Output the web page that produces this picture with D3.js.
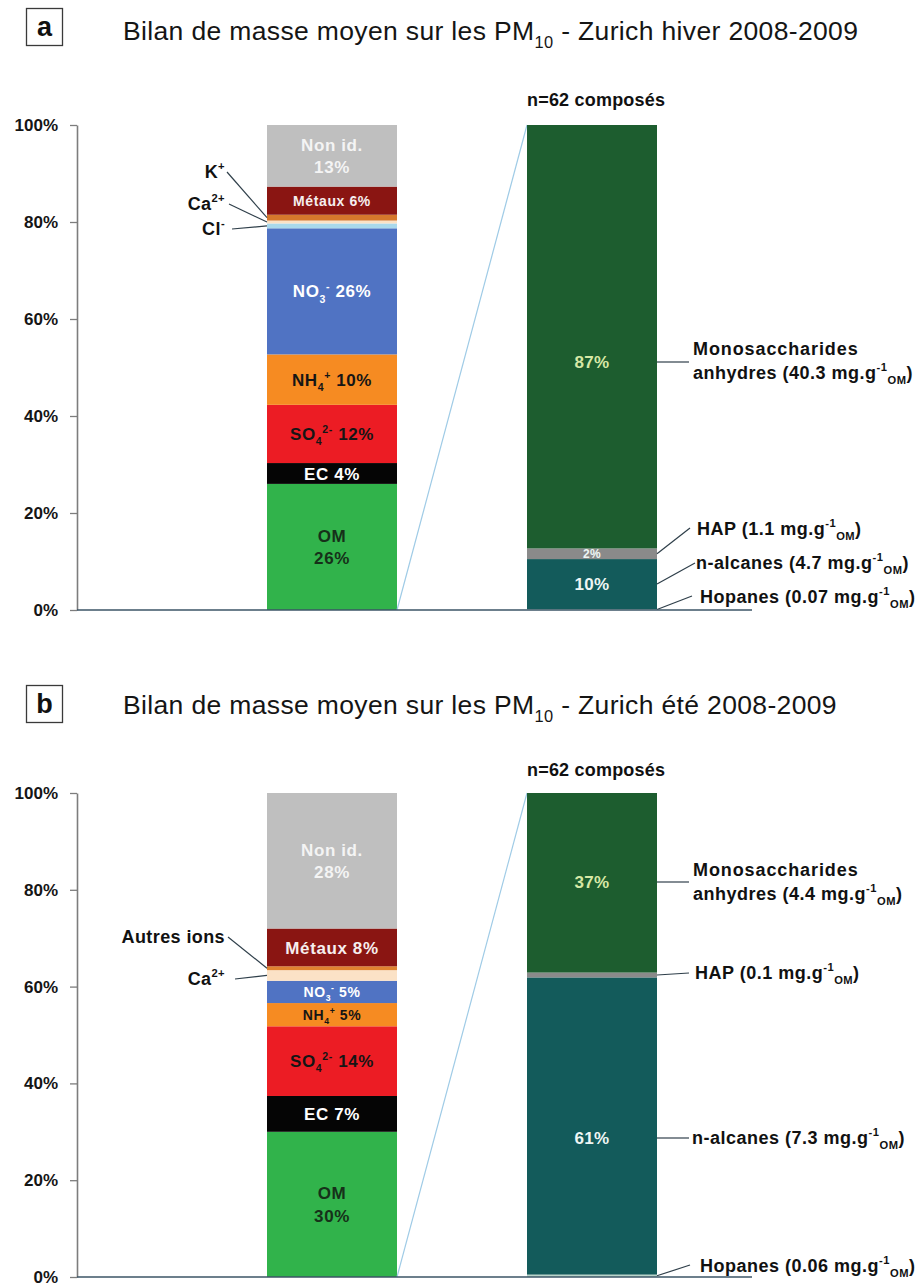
<!DOCTYPE html>
<html>
<head>
<meta charset="utf-8">
<script src="https://cdn.jsdelivr.net/npm/d3@7"></script>
<style>
  body { margin: 0; background: #fff; }
  svg { display: block; font-family: "Liberation Sans", Arial, sans-serif; }
</style>
</head>
<body>
<svg id="chart" width="920" height="1286"></svg>
<script>
// ---- Data: PM10 mass balance, Zurich 2008-2009 (shares in % of mass) ----
const winterComponents = ["OM", "EC", "SO4", "NH4", "NO3", "Cl", "Ca", "K", "Metaux", "NonId"];
const winterShares     = [26, 4.3, 12, 10.4, 26, 1, 0.6, 1.2, 5.8, 12.7];

const summerComponents = ["OM", "EC", "SO4", "NH4", "NO3", "Ca", "Autres", "Metaux", "NonId"];
const summerShares     = [30, 7.4, 14.4, 4.8, 4.6, 2.2, 0.8, 7.8, 28];

// Organic families among the 62 quantified compounds (% of the sum, mg/g OM)
const organicFamilies      = ["Hopanes", "nAlcanes", "HAP", "Mono"];
const winterOrganicShares  = [0.2, 10.3, 2.2, 87.3];
const winterOrganicConc    = [0.07, 4.7, 1.1, 40.3];
const summerOrganicShares  = [0.5, 61.4, 1.0, 37.1];
const summerOrganicConc    = [0.06, 7.3, 0.1, 4.4];

const yTicks = [0, 20, 40, 60, 80, 100];
const nCompounds = 62;

// ---- Styles ----
const fillOf = {
  OM: "#31b34b", EC: "#050505", SO4: "#ec1c24", NH4: "#f68b22", NO3: "#5073c3",
  Cl: "#a9d9ec", Ca: "#fbe2c6", K: "#d6772c", Autres: "#e0822f",
  Metaux: "#8a1512", NonId: "#bfbfbf",
  Mono: "#1d5d2f", HAP: "#8a8a8a", nAlcanes: "#135b5b", Hopanes: "#b9d5c9"
};

const svg = d3.select("#chart");
const pct = v => Math.round(v) + "%";

// Append text made of normal / sub / sup runs
function rich(text, parts, size) {
  let off = 0;
  parts.forEach(p => {
    const [t, kind] = Array.isArray(p) ? p : [p, null];
    const target = kind === "sub" ? size * 0.3 : kind === "sup" ? -size * 0.42 : 0;
    text.append("tspan")
      .attr("dy", target - off)
      .style("font-size", kind ? (size * 0.62) + "px" : null)
      .text(t);
    off = target;
  });
  return text;
}

function label(g, x, y, parts, size, opts = {}) {
  const t = g.append("text")
    .attr("x", x).attr("y", y)
    .attr("text-anchor", opts.anchor || "middle")
    .attr("font-weight", opts.weight || "bold")
    .attr("fill", opts.fill || "#111")
    .style("font-size", size + "px")
    .style("letter-spacing", (opts.ls != null ? opts.ls : 0.4) + "px");
  return rich(t, parts, size);
}

// In-bar labels of the mass balance
function massLabel(key, v) {
  switch (key) {
    case "NonId":  return { lines: [["Non id."], [pct(v)]], fill: "#f4f4f4" };
    case "Metaux": return { lines: [["Métaux " + pct(v)]], fill: "#f6eeee" };
    case "NO3":    return { lines: [["NO", ["3", "sub"], ["-", "sup"], " " + pct(v)]], fill: "#ffffff" };
    case "NH4":    return { lines: [["NH", ["4", "sub"], ["+", "sup"], " " + pct(v)]], fill: "#151515" };
    case "SO4":    return { lines: [["SO", ["4", "sub"], ["2-", "sup"], " " + pct(v)]], fill: "#151515" };
    case "EC":     return { lines: [["EC " + pct(v)]], fill: "#ffffff" };
    case "OM":     return { lines: [["OM"], [pct(v)]], fill: "#163019" };
    default:       return null;
  }
}

const organicName = {
  Mono: ["Monosaccharides", "anhydres"], HAP: ["HAP"], nAlcanes: ["n-alcanes"], Hopanes: ["Hopanes"]
};

function drawPanel(cfg) {
  const g = svg.append("g");
  const y = d3.scaleLinear().domain([0, 100]).range([cfg.yBottom, cfg.yTop]);
  const x = d3.scaleBand().domain(["mass", "organics"]).range([202, 722])
    .paddingInner(0.5).paddingOuter(0.25);
  const bw = x.bandwidth();

  // Panel letter and title
  g.append("rect").attr("x", 26.5).attr("y", cfg.boxY + 0.5).attr("width", 36).attr("height", 37)
    .attr("fill", "#fff").attr("stroke", "#3a3a3a").attr("stroke-width", 1.3);
  g.append("text").attr("x", 44.5).attr("y", cfg.boxY + 28).attr("text-anchor", "middle")
    .attr("font-weight", "bold").style("font-size", "27px").attr("fill", "#111").text(cfg.letter);
  label(g, 123, cfg.titleY,
    ["Bilan de masse moyen sur les PM", ["10", "sub"], " - Zurich " + cfg.season + " 2008-2009"],
    26.5, { anchor: "start", weight: "normal", ls: 0.35, fill: "#151515" });

  // Axis
  const axis = d3.axisLeft(y).tickValues(yTicks).tickFormat(d => d + "%")
    .tickSize(7).tickSizeOuter(0).tickPadding(12);
  const ag = g.append("g").attr("transform", "translate(77,0)").call(axis);
  ag.select(".domain").attr("stroke", "#7d7d7d").attr("stroke-width", 1.6);
  ag.selectAll(".tick line").attr("stroke", "#7d7d7d").attr("stroke-width", 1.3);
  ag.selectAll(".tick text").attr("fill", "#151515").attr("font-weight", "bold")
    .style("font-size", "17px").style("font-family", "'Liberation Sans', Arial, sans-serif");

  // Mass-balance stack
  const ends = d3.cumsum(cfg.shares);
  const segs = cfg.components.map((k, i) => ({ key: k, v: cfg.shares[i], lo: ends[i] - cfg.shares[i], hi: ends[i] }));
  const bx = x("mass");
  g.selectAll(null).data(segs).join("rect")
    .attr("x", bx).attr("width", bw)
    .attr("y", d => y(d.hi)).attr("height", d => y(d.lo) - y(d.hi))
    .attr("fill", d => fillOf[d.key]);

  segs.forEach(d => {
    const lab = massLabel(d.key, d.v);
    if (!lab) return;
    const size = (cfg.smallSize[d.key]) || 17;
    const mid = y((d.lo + d.hi) / 2);
    const lh = size * 1.3;
    const n = lab.lines.length;
    lab.lines.forEach((parts, j) => {
      label(g, bx + bw / 2, mid + (j - (n - 1) / 2) * lh + size * 0.36, parts, size, { fill: lab.fill, ls: 0.6 });
    });
  });

  // Leader labels for the thin ion bands
  cfg.sideLabels.forEach(s => {
    const d = segs.find(e => e.key === s.key);
    const ym = y((d.lo + d.hi) / 2);
    g.append("line").attr("x1", s.lx).attr("y1", s.ty - 6).attr("x2", bx).attr("y2", ym)
      .attr("stroke", "#2f3f4a").attr("stroke-width", 1.2);
    label(g, 225, s.ty, s.parts, 18, { anchor: "end" });
  });

  // Organic fraction stack
  const oEnds = d3.cumsum(cfg.orgShares);
  const oSegs = organicFamilies.map((k, i) => ({
    key: k, v: cfg.orgShares[i], c: cfg.orgConc[i], lo: oEnds[i] - cfg.orgShares[i], hi: oEnds[i]
  }));
  const ox = x("organics");

  // Zoom line from the OM bar to the organic detail bar
  g.append("line").attr("x1", bx + bw).attr("y1", y(0)).attr("x2", ox).attr("y2", y(100))
    .attr("stroke", "#9fcbe6").attr("stroke-width", 1.2);

  g.selectAll(null).data(oSegs).join("rect")
    .attr("x", ox).attr("width", bw)
    .attr("y", d => y(d.hi)).attr("height", d => y(d.lo) - y(d.hi))
    .attr("fill", d => fillOf[d.key]);

  oSegs.forEach(d => {
    if (d.v < 1.5) return;
    const big = d.v > 5;
    const size = big ? 17 : 12;
    const lead = cfg.orgLabels.find(s => s.key === d.key);
    const cy = lead && lead.level ? lead.leaderY : y((d.lo + d.hi) / 2);
    label(g, ox + bw / 2, cy + size * 0.36, [pct(d.v)], size,
      { fill: d.key === "Mono" ? "#d7e8a6" : "#eef6f4", ls: 0.4 });
  });

  label(g, 527, cfg.nY, ["n=" + nCompounds + " composés"], 18, { anchor: "start", ls: 0.2 });

  // Right-hand leader labels with concentrations
  cfg.orgLabels.forEach(s => {
    const d = oSegs.find(e => e.key === s.key);
    const name = organicName[s.key];
    const conc = [" (" + d.c + " mg.g", ["-1", "sup"], ["OM", "sub"], ")"];
    const endY = s.leaderY;
    const startY = s.level ? endY : y((d.lo + d.hi) / 2);
    g.append("line").attr("x1", ox + bw).attr("y1", startY).attr("x2", s.lx).attr("y2", endY)
      .attr("stroke", "#2f3f4a").attr("stroke-width", 1.2);
    if (name.length === 2) {
      label(g, 693, s.ty, [name[0]], 18, { anchor: "start", ls: 0.9 });
      label(g, 693, s.ty + 24, [name[1]].concat(conc), 18, { anchor: "start", ls: 0.5 });
    } else {
      label(g, s.tx, s.ty, [name[0]].concat(conc), 18, { anchor: "start", ls: 0.5 });
    }
  });

  // Baseline across both bars
  g.append("line").attr("x1", 77).attr("x2", 752).attr("y1", y(0)).attr("y2", y(0))
    .attr("stroke", "#3b5566").attr("stroke-width", 1.6);
}

drawPanel({
  letter: "a", season: "hiver", boxY: 8, titleY: 40, nY: 106,
  yBottom: 610, yTop: 125,
  components: winterComponents, shares: winterShares,
  orgShares: winterOrganicShares, orgConc: winterOrganicConc,
  smallSize: { Metaux: 14 },
  sideLabels: [
    { key: "K",  parts: ["K", ["+", "sup"]],  ty: 178, lx: 227 },
    { key: "Ca", parts: ["Ca", ["2+", "sup"]], ty: 210, lx: 229 },
    { key: "Cl", parts: ["Cl", ["-", "sup"]],  ty: 235, lx: 232 }
  ],
  orgLabels: [
    { key: "Mono",     ty: 355, leaderY: 362, lx: 689, level: true },
    { key: "HAP",      ty: 535, tx: 697, leaderY: 528, lx: 690 },
    { key: "nAlcanes", ty: 569, tx: 696, leaderY: 563, lx: 695 },
    { key: "Hopanes",  ty: 603, tx: 700, leaderY: 596, lx: 692 }
  ]
});

drawPanel({
  letter: "b", season: "été", boxY: 685, titleY: 714, nY: 776,
  yBottom: 1277, yTop: 793,
  components: summerComponents, shares: summerShares,
  orgShares: summerOrganicShares, orgConc: summerOrganicConc,
  smallSize: { NO3: 14, NH4: 14 },
  sideLabels: [
    { key: "Autres", parts: ["Autres ions"], ty: 943, lx: 228 },
    { key: "Ca",     parts: ["Ca", ["2+", "sup"]], ty: 985, lx: 235 }
  ],
  orgLabels: [
    { key: "Mono",     ty: 876, leaderY: 882, lx: 689, level: true },
    { key: "HAP",      ty: 979, tx: 695, leaderY: 973, lx: 689 },
    { key: "nAlcanes", ty: 1144, tx: 692, leaderY: 1138, lx: 689, level: true },
    { key: "Hopanes",  ty: 1272, tx: 700, leaderY: 1265, lx: 690 }
  ]
});
</script>
</body>
</html>
